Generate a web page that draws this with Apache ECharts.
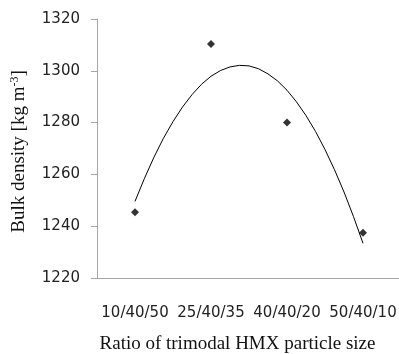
<!DOCTYPE html>
<html><head><meta charset="utf-8">
<script src="https://cdn.jsdelivr.net/npm/echarts@6/dist/echarts.min.js"></script>
<style>html,body{margin:0;padding:0;background:#fff}#c{width:399px;height:354px}</style>
</head><body><div id="c"></div>
<script>
const categories = ['10/40/50', '25/40/35', '40/40/20', '50/40/10'];
const bulkDensity = [1245.4, 1310.3, 1280.0, 1237.5];
// trendline (2nd order polynomial) at x = 1 … 4
const trendX = [1, 1.125, 1.25, 1.375, 1.5, 1.625, 1.75, 1.875, 2, 2.125, 2.25, 2.375, 2.5,
                2.625, 2.75, 2.875, 3, 3.125, 3.25, 3.375, 3.5, 3.625, 3.75, 3.875, 4];
const trendY = [1249.6, 1258.5, 1266.7, 1274.0, 1280.4, 1286.0, 1290.8, 1294.8, 1297.9, 1300.1, 1301.5, 1302.1, 1301.9,
                1300.8, 1298.8, 1296.1, 1292.5, 1288.0, 1282.7, 1276.6, 1269.6, 1261.8, 1253.2, 1243.7, 1233.4];
const yTicks = [1220, 1240, 1260, 1280, 1300, 1320];

const chart = echarts.init(document.getElementById('c'), null, {renderer: 'canvas'});
const axisGray = '#a6a6a6';
chart.setOption({
  animation: false,
  grid: {left: 97, right: -2, top: 19, bottom: 76, outerBoundsMode: 'none', containLabel: false},
  xAxis: [{
    type: 'category', data: categories, boundaryGap: true,
    axisLine: {lineStyle: {color: axisGray}}, axisTick: {show: false},
    axisLabel: {color: '#222', fontFamily: 'DejaVu Sans', fontSize: 15, margin: 28, interval: 0, hideOverlap: false},
    name: 'Ratio of trimodal HMX particle size', nameLocation: 'middle', nameGap: 57,
    nameTextStyle: {fontFamily: 'Liberation Serif', fontSize: 19, color: '#111', padding: [0, 23, 0, 0]}
  }, {
    type: 'value', min: 0.5, max: 4.5, show: false
  }],
  yAxis: {
    type: 'value', min: yTicks[0], max: yTicks[yTicks.length - 1], interval: 20,
    axisLine: {show: true, lineStyle: {color: axisGray}},
    axisTick: {show: true, length: 6, lineStyle: {color: axisGray}},
    splitLine: {show: false},
    axisLabel: {color: '#222', fontFamily: 'DejaVu Sans', fontSize: 15, margin: 17, formatter: v => String(v)},
    name: '{a|Bulk density [kg m}{s|-3}{a|]}', nameLocation: 'middle', nameGap: 67, nameRotate: 90,
    nameTextStyle: {padding: [0, 6, 0, 0], rich: {
      a: {fontFamily: 'Liberation Serif', fontSize: 19, color: '#111'},
      s: {fontFamily: 'Liberation Serif', fontSize: 12, color: '#111', verticalAlign: 'top', padding: [0, 0, 9, 0]}
    }}
  },
  series: [{
    type: 'line', xAxisIndex: 1, data: trendX.map((x, i) => [x, trendY[i]]),
    smooth: false, showSymbol: false, lineStyle: {color: '#000', width: 1}
  }, {
    type: 'scatter', xAxisIndex: 1, data: bulkDensity.map((v, i) => [i + 1, v]),
    symbol: 'diamond', symbolSize: 8, itemStyle: {color: '#000'}
  }]
});
</script></body></html>
